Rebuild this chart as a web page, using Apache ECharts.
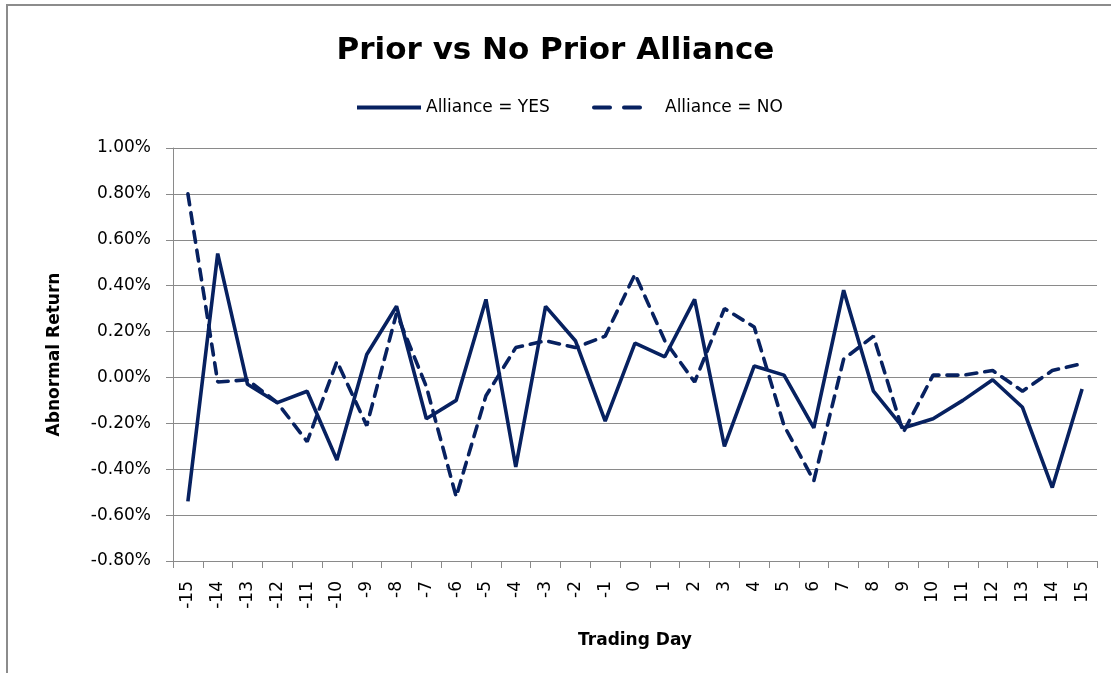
<!DOCTYPE html>
<html>
<head>
<meta charset="utf-8">
<title>Prior vs No Prior Alliance</title>
<script src="https://cdn.jsdelivr.net/npm/echarts@6/dist/echarts.min.js"></script>
<style>
  html, body { margin: 0; padding: 0; background: #fff; }
  #chart { width: 1111px; height: 673px; }
</style>
</head>
<body>
<div id="chart"></div>
<script>
// trading days -15..15
const tradingDays = ['-15', '-14', '-13', '-12', '-11', '-10', '-9', '-8', '-7', '-6', '-5', '-4', '-3', '-2', '-1',
  '0', '1', '2', '3', '4', '5', '6', '7', '8', '9', '10', '11', '12', '13', '14', '15'];

// abnormal return, in percent
const allianceYes = [-0.54, 0.54, -0.03, -0.11, -0.06, -0.36, 0.10, 0.31, -0.18, -0.10, 0.34, -0.39, 0.31, 0.16, -0.19,
  0.15, 0.09, 0.34, -0.30, 0.05, 0.01, -0.22, 0.38, -0.06, -0.22, -0.18, -0.10, -0.01, -0.13, -0.48, -0.05];
const allianceNo = [0.80, -0.02, -0.01, -0.11, -0.28, 0.07, -0.21, 0.28, -0.04, -0.52, -0.08, 0.13, 0.16, 0.13, 0.18,
  0.45, 0.16, -0.02, 0.30, 0.22, -0.21, -0.45, 0.08, 0.18, -0.24, 0.01, 0.01, 0.03, -0.06, 0.03, 0.06];

const yMin = -0.8;
const yMax = 1.0;
const yStep = 0.2;

const navy = '#072160';
const gridGray = '#8a8a8a';
const fontFamily = '"DejaVu Sans", sans-serif';

const chart = echarts.init(document.getElementById('chart'));

// legend shows only the line, no marker
const legendCommon = {
  top: 94,
  itemHeight: 14,
  itemStyle: { opacity: 0 },
  textStyle: { fontFamily: fontFamily, fontSize: 17, color: '#000' }
};

const option = {
  backgroundColor: '#fff',
  animation: false,
  // frame of the embedded chart
  graphic: [
    {
      type: 'rect',
      shape: { x: 7, y: 5, width: 1200, height: 800 },
      style: { fill: 'none', stroke: '#8c8c8c', lineWidth: 2 },
      silent: true
    }
  ],
  title: {
    text: 'Prior vs No Prior Alliance',
    left: 'center',
    top: 30,
    textStyle: {
      fontFamily: fontFamily,
      fontSize: 31,
      fontWeight: 'bold',
      color: '#000'
    }
  },
  legend: [
    Object.assign({}, legendCommon, {
      data: ['Alliance = YES'],
      left: 350,
      itemWidth: 64,
      lineStyle: { width: 4, type: 'solid' }
    }),
    Object.assign({}, legendCommon, {
      data: ['Alliance = NO'],
      left: 587,
      itemWidth: 48,
      lineStyle: { width: 4, type: [16, 14], cap: 'round' },
      textStyle: { fontFamily: fontFamily, fontSize: 17, color: '#000', padding: [0, 0, 0, 18] }
    })
  ],
  grid: {
    left: 173,
    right: 14,
    top: 148,
    bottom: 112
  },
  xAxis: {
    type: 'category',
    data: tradingDays,
    boundaryGap: true,
    name: 'Trading Day',
    nameLocation: 'middle',
    nameGap: 71,
    nameTextStyle: {
      fontFamily: fontFamily,
      fontSize: 17,
      fontWeight: 'bold',
      color: '#000'
    },
    axisLine: { onZero: false, lineStyle: { color: gridGray, width: 1 } },
    axisTick: { show: true, length: 7, lineStyle: { color: gridGray } },
    axisLabel: {
      rotate: 90,
      margin: 20,
      interval: 0,
      fontFamily: fontFamily,
      fontSize: 17,
      color: '#000'
    },
    splitLine: { show: false }
  },
  yAxis: {
    type: 'value',
    min: yMin,
    max: yMax,
    interval: yStep,
    name: 'Abnormal Return',
    nameLocation: 'middle',
    nameGap: 110,
    nameTextStyle: {
      fontFamily: fontFamily,
      fontSize: 17,
      fontWeight: 'bold',
      color: '#000'
    },
    axisLine: { show: true, lineStyle: { color: gridGray, width: 1 } },
    axisTick: { show: true, length: 7, lineStyle: { color: gridGray } },
    axisLabel: {
      margin: 22,
      fontFamily: fontFamily,
      fontSize: 17,
      color: '#000',
      formatter: v => v.toFixed(2) + '%'
    },
    splitLine: { show: true, lineStyle: { color: gridGray, width: 1 } }
  },
  series: [
    {
      name: 'Alliance = YES',
      type: 'line',
      data: allianceYes,
      symbol: 'none',
      lineStyle: { color: navy, width: 3.6, type: 'solid' },
      itemStyle: { color: navy }
    },
    {
      name: 'Alliance = NO',
      type: 'line',
      data: allianceNo,
      symbol: 'none',
      lineStyle: { color: navy, width: 3.6, type: [11, 8], cap: 'round' },
      itemStyle: { color: navy }
    }
  ]
};

chart.setOption(option);
</script>
</body>
</html>
